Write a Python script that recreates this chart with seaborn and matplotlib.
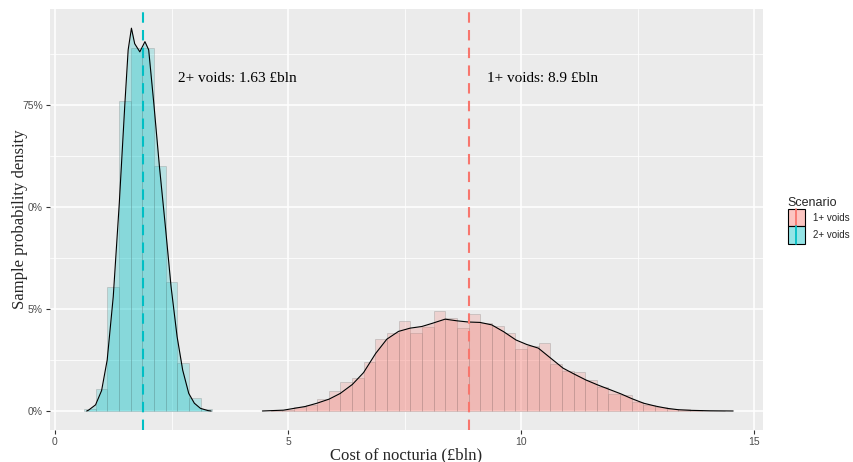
import numpy as np
import pandas as pd
import matplotlib
matplotlib.use("Agg")
import matplotlib.pyplot as plt
import seaborn as sns
from matplotlib.patches import Patch, Rectangle
from matplotlib.lines import Line2D
from matplotlib.colors import to_rgba
from matplotlib.ticker import MultipleLocator

# data
scenarios = ["1+ voids", "2+ voids"]
colours = ["#F8766D", "#00BFC4"]
means = [8.88, 1.88]
labels_txt = ["1+ voids: 8.9 £bln", "2+ voids: 1.63 £bln"]
label_x = [9.27, 2.64]
label_y = 0.814

# histogram bin centres (binwidth 0.25) and density heights
red_centres = [4.75, 5.0, 5.25, 5.5, 5.75, 6.0, 6.25, 6.5, 6.75, 7.0, 7.25, 7.5, 7.75,
               8.0, 8.25, 8.5, 8.75, 9.0, 9.25, 9.5, 9.75, 10.0, 10.25, 10.5, 10.75,
               11.0, 11.25, 11.5, 11.75, 12.0, 12.25, 12.5, 12.75, 13.0, 13.25, 13.5,
               13.75, 14.0, 14.25]
red_dens = [0.002, 0.003, 0.009, 0.015, 0.029, 0.050, 0.072, 0.082, 0.119, 0.176, 0.190,
            0.220, 0.190, 0.207, 0.246, 0.227, 0.203, 0.237, 0.215, 0.208, 0.192, 0.152,
            0.160, 0.167, 0.115, 0.099, 0.095, 0.075, 0.058, 0.042, 0.040, 0.021, 0.014,
            0.009, 0.005, 0.004, 0.002, 0.001, 0.001]
cyan_centres = [0.75, 1.0, 1.25, 1.5, 1.75, 2.0, 2.25, 2.5, 2.75, 3.0, 3.25]
cyan_dens = [0.004, 0.053, 0.305, 0.760, 0.890, 0.890, 0.601, 0.315, 0.117, 0.033, 0.004]

# density curves (kde outline)
red_kx = [4.45, 4.9, 5.37, 5.62, 5.88, 6.12, 6.38, 6.62, 6.88, 7.12, 7.37, 7.62, 7.87,
          8.1, 8.37, 8.62, 8.87, 9.12, 9.37, 9.63, 9.89, 10.12, 10.37, 10.64, 10.9,
          11.13, 11.39, 11.64, 11.89, 12.14, 12.38, 12.63, 12.88, 13.13, 13.38, 13.62,
          14.05, 14.55]
red_ky = [0.0, 0.002, 0.011, 0.019, 0.029, 0.043, 0.065, 0.094, 0.141, 0.176, 0.195,
          0.203, 0.207, 0.215, 0.225, 0.221, 0.218, 0.217, 0.211, 0.194, 0.174, 0.163,
          0.154, 0.129, 0.105, 0.091, 0.076, 0.064, 0.053, 0.042, 0.030, 0.019, 0.012,
          0.0065, 0.003, 0.0016, 0.0005, 0.0]
cyan_kx = [0.68, 0.72, 0.87, 1.0, 1.12, 1.25, 1.38, 1.5, 1.57, 1.64, 1.71, 1.82, 1.93,
           2.01, 2.12, 2.24, 2.37, 2.49, 2.62, 2.74, 2.87, 2.99, 3.12, 3.28, 3.35]
cyan_ky = [0.0, 0.002, 0.015, 0.05, 0.125, 0.28, 0.51, 0.754, 0.885, 0.938, 0.90, 0.88,
           0.905, 0.885, 0.754, 0.60, 0.45, 0.305, 0.182, 0.10, 0.043, 0.019, 0.0065,
           0.001, 0.0]

yticks = [0, 0.25, 0.5, 0.75]
ytick_labels = ["0%", "5%", "0%", "75%"]
xticks = [0, 5, 10, 15]


class KeyHandler:
    # filled square with the vline running down the middle, like the ggplot key
    def __init__(self, colour):
        self.colour = colour

    def legend_artist(self, legend, orig_handle, fontsize, handlebox):
        x0, y0 = -handlebox.xdescent, -handlebox.ydescent
        w, h = handlebox.width, handlebox.height
        tr = handlebox.get_transform()
        rect = Rectangle((x0, y0), w, h, facecolor=to_rgba(self.colour, 0.42),
                         edgecolor="black", lw=0.8, transform=tr)
        line = Line2D([x0 + w / 2, x0 + w / 2], [y0, y0 + h], color=self.colour,
                      lw=1.3, transform=tr)
        handlebox.add_artist(rect)
        handlebox.add_artist(line)
        return rect


sns.set_theme(style="darkgrid", rc={"axes.facecolor": "#EBEBEB", "grid.color": "white"})
plt.rcParams["font.family"] = ["Liberation Sans", "DejaVu Sans"]
serif = ["Liberation Serif", "DejaVu Serif"]

fig = plt.figure(figsize=(8.54, 4.62), dpi=100)
ax = fig.add_axes([50 / 854, 1 - 430 / 462, (763 - 50) / 854, (430 - 9) / 462])

hists = [(red_centres, red_dens), (cyan_centres, cyan_dens)]
kdes = [(red_kx, red_ky), (cyan_kx, cyan_ky)]
for i in range(len(scenarios)):
    cx, cd = hists[i]
    sns.histplot(x=cx, weights=cd, binwidth=0.25,
                 binrange=(cx[0] - 0.125, cx[-1] + 0.125),
                 color=colours[i], alpha=0.22, edgecolor=(0.55, 0.55, 0.55, 0.35),
                 linewidth=0.7, ax=ax)
    kx, ky = kdes[i]
    ax.fill_between(kx, ky, color=colours[i], alpha=0.26, lw=0)
    sns.lineplot(x=kx, y=ky, color="black", lw=0.8, sort=False, ax=ax)
    ax.axvline(means[i], color=colours[i], lw=1.5, ls=(0, (5, 3.5)))
    ax.text(label_x[i], label_y, labels_txt[i], ha="left", va="center",
            family=serif, size=11, color="black")

ax.set_xlim(-0.107, 15.19)
ax.set_ylim(-0.0466, 0.985)
ax.set_xticks(xticks)
ax.set_xticklabels([str(t) for t in xticks])
ax.set_yticks(yticks)
ax.set_yticklabels(ytick_labels)
ax.xaxis.set_minor_locator(MultipleLocator(2.5))
ax.yaxis.set_minor_locator(MultipleLocator(0.125))
ax.grid(which="major", color="white", lw=1.1)
ax.grid(which="minor", color="white", lw=0.55)
for s in ax.spines.values():
    s.set_visible(False)
ax.tick_params(which="major", length=3, width=0.8, color="#333333",
               labelcolor="#4D4D4D", labelsize=7.5, pad=2, bottom=True, left=True)
ax.tick_params(which="minor", length=0)

ax.set_xlabel("Cost of nocturia (£bln)", family=serif, size=12)
ax.set_ylabel("Sample probability density", family=serif, size=12)
ax.xaxis.set_label_coords(0.5, -(447 - 430) / 421)
ax.yaxis.set_label_coords(-(50 - 28) / 713, 0.5)

handles = [Patch(label=s) for s in scenarios]
hmap = {handles[i]: KeyHandler(colours[i]) for i in range(len(scenarios))}
fig.legend(handles, scenarios, handler_map=hmap,
           loc="upper left", bbox_to_anchor=(779 / 854, 1 - 188 / 462),
           frameon=False, title="Scenario", alignment="left",
           handlelength=1.8, handleheight=2.4, labelspacing=0.0,
           handletextpad=0.8, fontsize=7, title_fontsize=9)

fig.savefig("out.png", dpi=100)
